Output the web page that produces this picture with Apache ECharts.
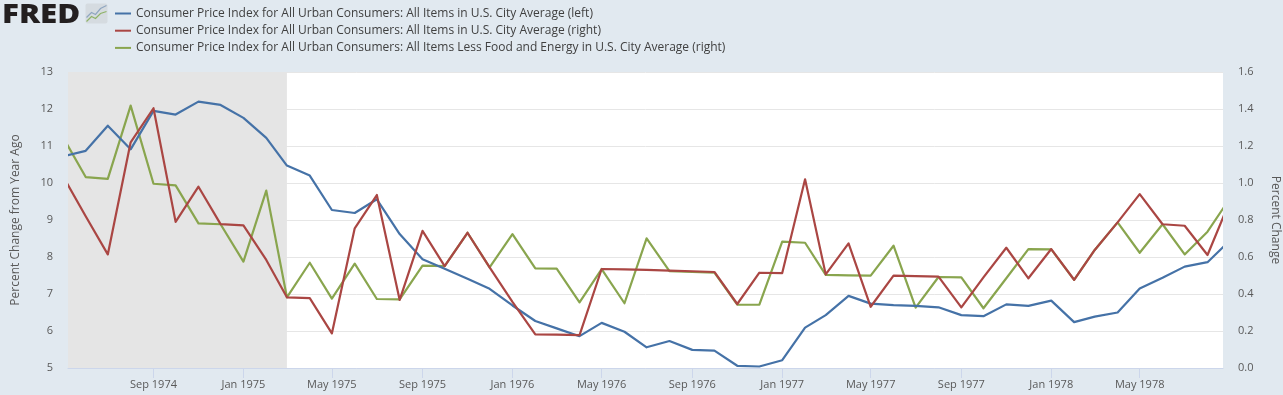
<!DOCTYPE html>
<html><head><meta charset="utf-8">
<style>html,body{margin:0;padding:0;background:#e1e9f0}#c{width:1283px;height:395px}</style>
<script src="https://cdn.jsdelivr.net/npm/echarts@6/dist/echarts.min.js"></script>
</head><body><div id="c"></div>
<script>
const months = ['1974-05-01','1974-06-01','1974-07-01','1974-08-01','1974-09-01','1974-10-01','1974-11-01','1974-12-01',
'1975-01-01','1975-02-01','1975-03-01','1975-04-01','1975-05-01','1975-06-01','1975-07-01','1975-08-01','1975-09-01','1975-10-01','1975-11-01','1975-12-01',
'1976-01-01','1976-02-01','1976-03-01','1976-04-01','1976-05-01','1976-06-01','1976-07-01','1976-08-01','1976-09-01','1976-10-01','1976-11-01','1976-12-01',
'1977-01-01','1977-02-01','1977-03-01','1977-04-01','1977-05-01','1977-06-01','1977-07-01','1977-08-01','1977-09-01','1977-10-01','1977-11-01','1977-12-01',
'1978-01-01','1978-02-01','1978-03-01','1978-04-01','1978-05-01','1978-06-01','1978-07-01','1978-08-01','1978-09-01'];
const cpiYoY = [10.72,10.87,11.55,10.91,11.95,11.85,12.2,12.11,
11.76,11.22,10.47,10.2,9.27,9.19,9.56,8.62,7.94,7.68,7.41,7.14,
6.69,6.27,6.07,5.86,6.22,5.98,5.56,5.73,5.49,5.47,5.06,5.04,
5.21,6.09,6.43,6.95,6.74,6.70,6.68,6.64,6.43,6.40,6.72,6.68,
6.82,6.24,6.39,6.50,7.15,7.44,7.74,7.86,8.46];
const cpiMoM = [1.038,0.82,0.614,1.22,1.404,0.79,0.98,0.778,
0.771,0.584,0.382,0.378,0.187,0.755,0.935,0.368,0.741,0.551,0.731,0.544,
0.358,0.182,0.18,0.178,0.535,0.533,0.53,0.526,0.523,0.519,0.346,0.515,
0.513,1.02,0.506,0.674,0.331,0.499,0.497,0.494,0.328,0.49,0.65,0.485,
0.643,0.477,0.638,0.787,0.94,0.777,0.769,0.611,0.908];
const coreMoM = [1.249,1.032,1.022,1.418,0.996,0.987,0.782,0.777,
0.575,0.959,0.382,0.569,0.375,0.564,0.373,0.371,0.553,0.551,0.731,0.544,
0.724,0.539,0.537,0.355,0.535,0.35,0.701,0.523,0.519,0.515,0.342,0.342,
0.683,0.677,0.503,0.501,0.499,0.661,0.326,0.492,0.49,0.323,0.485,0.643,
0.641,0.476,0.638,0.787,0.623,0.777,0.614,0.737,0.921];
const names = ['Consumer Price Index for All Urban Consumers: All Items in U.S. City Average (left)',
'Consumer Price Index for All Urban Consumers: All Items in U.S. City Average (right)',
'Consumer Price Index for All Urban Consumers: All Items Less Food and Energy in U.S. City Average (right)'];
const xTicks = ['1974-09-01','1975-01-01','1975-05-01','1975-09-01','1976-01-01','1976-05-01','1976-09-01','1977-01-01','1977-05-01','1977-09-01','1978-01-01','1978-05-01'];
const xLabels = ['Sep 1974','Jan 1975','May 1975','Sep 1975','Jan 1976','May 1976','Sep 1976','Jan 1977','May 1977','Sep 1977','Jan 1978','May 1978'];
const axisStart = '1974-05-08', axisEnd = '1978-08-22';
const recession = ['1974-05-08','1975-03-01'];

const ts = s => new Date(s + 'T00:00:00Z').getTime();
const pairs = vals => months.map((m,i)=>[ts(m),vals[i]]);
const labelMap = {}; xTicks.forEach((t,i)=>labelMap[ts(t)]=xLabels[i]);
const FONT = '"Open Sans", sans-serif';
const TXT = '#595959';
const BG = '#e1e9f0';
const mk = (name,vals,color,yi,extra) => Object.assign({
  name,type:'line',yAxisIndex:yi,data:pairs(vals),showSymbol:false,symbol:'none',smooth:false,
  clip:true,silent:true,animation:false,
  lineStyle:{color,width:2.2,join:'round'},itemStyle:{color}
},extra||{});

const chart = echarts.init(document.getElementById('c'),null,{renderer:'canvas'});
chart.setOption({
  animation:false,backgroundColor:BG,
  textStyle:{fontFamily:FONT},
  grid:{left:68,right:60,top:72,height:296,show:true,backgroundColor:'#fff',borderWidth:0,containLabel:false,outerBoundsMode:'none'},
  legend:{orient:'vertical',left:115,top:7.5,padding:0,itemWidth:16,itemHeight:2,itemGap:5.2,icon:'rect',selectedMode:false,
    textStyle:{color:'#404040',fontSize:12,fontFamily:FONT,lineHeight:12},
    data:names},
  xAxis:{type:'value',min:ts(axisStart),max:ts(axisEnd),scale:true,
    axisLine:{show:true,lineStyle:{color:'#ccd6eb',width:1}},
    axisTick:{show:true,length:10,customValues:xTicks.map(ts),lineStyle:{color:'#ccd6eb'}},
    axisLabel:{show:true,customValues:xTicks.map(ts),formatter:v=>labelMap[v]||'',color:TXT,fontSize:11,margin:11,fontFamily:FONT,hideOverlap:false,showMinLabel:true,showMaxLabel:true},
    splitLine:{show:false},minorSplitLine:{show:false}},
  yAxis:[
   {type:'value',min:5,max:13,interval:1,position:'left',name:'Percent Change from Year Ago',nameLocation:'middle',nameRotate:90,nameGap:46,
    nameTextStyle:{color:TXT,fontSize:12,fontFamily:FONT},
    axisLine:{show:false},axisTick:{show:false},axisLabel:{color:TXT,fontSize:11,margin:15,fontFamily:FONT,padding:[2,0,0,0]},
    splitLine:{show:true,lineStyle:{color:'#e6e6e6',width:1}}},
   {type:'value',min:0,max:1.6,interval:0.2,position:'right',name:'Percent Change',nameLocation:'middle',nameRotate:-90,nameGap:46,
    nameTextStyle:{color:TXT,fontSize:12,fontFamily:FONT},
    axisLine:{show:false},axisTick:{show:false},axisLabel:{color:TXT,fontSize:11,margin:15,fontFamily:FONT,padding:[2,0,0,0],formatter:v=>v.toFixed(1)},
    splitLine:{show:false}}
  ],
  series:[
    mk(names[0],cpiYoY,'#4572A7',0,{z:3,markArea:{silent:true,z:1,itemStyle:{color:'#e5e5e5',opacity:1},label:{show:false},
      data:[[{xAxis:ts(recession[0])},{xAxis:ts(recession[1])}]]}}),
    mk(names[1],cpiMoM,'#AA4643',1,{z:3}),
    mk(names[2],coreMoM,'#89A54E',1,{z:2})
  ],
  graphic:[
    {type:'rect',left:62,top:72,z:9,silent:true,shape:{width:6,height:296},style:{fill:BG}},
    {type:'rect',left:1223,top:72,z:9,silent:true,shape:{width:5,height:296},style:{fill:BG}},
    {type:'text',left:2,top:2,scaleX:1.16,z:10,silent:true,style:{text:'FRED',fill:'#231f20',font:'900 27px "Open Sans", sans-serif',letterSpacing:-1}},
    {type:'group',left:84,top:3,z:10,silent:true,children:[
      {type:'rect',shape:{x:0,y:0,width:22,height:20,r:2},style:{fill:'#d5dbe0'}},
      {type:'polyline',shape:{points:[[1,14],[6,9],[10,11],[15,5],[21,2]]},style:{stroke:'#8fa6c0',fill:null,lineWidth:1.2}},
      {type:'polyline',shape:{points:[[1,18],[6,13],[10,15],[15,10],[21,8]]},style:{stroke:'#8fb368',fill:null,lineWidth:1.2}}
    ]}
  ]
});
</script></body></html>
